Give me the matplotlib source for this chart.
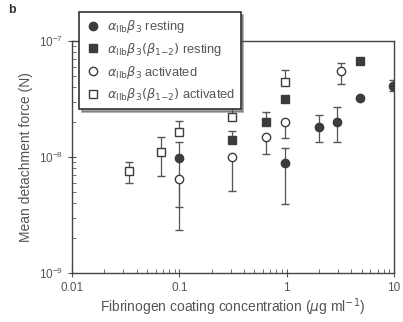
import matplotlib
matplotlib.use("Agg")
import matplotlib.pyplot as plt
import numpy as np
from matplotlib.lines import Line2D
from matplotlib.ticker import FixedLocator, FixedFormatter, LogLocator, NullFormatter

plt.rcParams.update({
    "font.family": ["Liberation Sans", "DejaVu Sans"],
    "font.size": 8,
    "mathtext.fontset": "dejavusans",
})

# --- data ---
# alpha_IIb beta_3 resting (filled circles)
rest_x = np.array([0.1, 0.97, 2.0, 2.95, 4.85, 9.7])
rest_y = np.array([9.8e-9, 8.9e-9, 1.83e-8, 2.0e-8, 3.2e-8, 4.1e-8])
rest_lo = np.array([3.7e-9, 3.9e-9, 1.34e-8, 1.34e-8, 3.2e-8, 3.7e-8])
rest_hi = np.array([1.34e-8, 1.2e-8, 2.29e-8, 2.68e-8, 3.2e-8, 4.6e-8])

# alpha_IIb beta_3 (beta_1-2) resting (filled squares)
chim_rest_x = np.array([0.31, 0.64, 0.97, 4.85])
chim_rest_y = np.array([1.39e-8, 2.0e-8, 3.15e-8, 6.7e-8])
chim_rest_lo = np.array([1.39e-8, 2.0e-8, 3.15e-8, 6.7e-8])
chim_rest_hi = np.array([1.66e-8, 2.43e-8, 3.15e-8, 6.7e-8])

# alpha_IIb beta_3 activated (open circles)
act_x = np.array([0.1, 0.31, 0.64, 0.97, 3.2])
act_y = np.array([6.4e-9, 1.0e-8, 1.5e-8, 2.0e-8, 5.5e-8])
act_lo = np.array([2.35e-9, 5.1e-9, 1.07e-8, 1.45e-8, 4.25e-8])
act_hi = np.array([6.4e-9, 1.0e-8, 1.5e-8, 2.0e-8, 6.45e-8])

# alpha_IIb beta_3 (beta_1-2) activated (open squares)
chim_act_x = np.array([0.034, 0.067, 0.1, 0.31, 0.97])
chim_act_y = np.array([7.6e-9, 1.1e-8, 1.65e-8, 2.2e-8, 4.4e-8])
chim_act_lo = np.array([6.0e-9, 6.8e-9, 1.65e-8, 2.2e-8, 4.4e-8])
chim_act_hi = np.array([9.1e-9, 1.5e-8, 2.03e-8, 2.79e-8, 5.6e-8])

labels = [r"$\alpha_{\mathrm{IIb}}\beta_3$ resting",
          r"$\alpha_{\mathrm{IIb}}\beta_3(\beta_{1\mathrm{-}2})$ resting",
          r"$\alpha_{\mathrm{IIb}}\beta_3$ activated",
          r"$\alpha_{\mathrm{IIb}}\beta_3(\beta_{1\mathrm{-}2})$ activated"]

xticks = [0.01, 0.1, 1, 10]
xticklabels = ["0.01", "0.1", "1", "10"]

dark = "#3c3c3c"
line = "#555555"

fig = plt.figure(figsize=(4.03, 3.22), dpi=100)
ax = fig.add_axes([0.179, 0.152, 0.799, 0.721])

series = [
    (rest_x, rest_y, rest_lo, rest_hi, "o", dark),
    (chim_rest_x, chim_rest_y, chim_rest_lo, chim_rest_hi, "s", dark),
    (act_x, act_y, act_lo, act_hi, "o", "white"),
    (chim_act_x, chim_act_y, chim_act_lo, chim_act_hi, "s", "white"),
]
handles = []
for (x, y, lo, hi, m, fc), lab in zip(series, labels):
    ax.errorbar(x, y, yerr=[y - lo, hi - y], fmt=m, ms=6, mfc=fc, mec=dark,
                mew=1.0, ecolor=line, elinewidth=0.9, capsize=3, capthick=0.9,
                zorder=3)
    handles.append(Line2D([], [], ls="none", marker=m, ms=6, mfc=fc, mec=dark,
                          mew=1.0, label=lab))

ax.set_xscale("log")
ax.set_yscale("log")
ax.set_xlim(0.01, 10)
ax.set_ylim(1e-9, 1e-7)

ax.xaxis.set_major_locator(FixedLocator(xticks))
ax.xaxis.set_major_formatter(FixedFormatter(xticklabels))
ax.xaxis.set_minor_locator(LogLocator(base=10, subs=np.arange(2, 10)))
ax.xaxis.set_minor_formatter(NullFormatter())
ax.yaxis.set_minor_locator(LogLocator(base=10, subs=np.arange(2, 10)))
ax.yaxis.set_minor_formatter(NullFormatter())

ax.tick_params(which="major", direction="inout", length=6, width=0.8, colors=line,
               labelcolor="#555555", labelsize=8.5)
ax.tick_params(which="minor", direction="in", length=3, width=0.6, colors=line)
for s in ax.spines.values():
    s.set_color("#444444")
    s.set_linewidth(1.0)

ax.set_xlabel(r"Fibrinogen coating concentration ($\mu$g ml$^{-1}$)",
              fontsize=10, color="#555555", labelpad=2)
ax.set_ylabel("Mean detachment force (N)", fontsize=10, color="#555555")

leg = ax.legend(handles=handles, loc="upper left", bbox_to_anchor=(0.196, 0.962),
                bbox_transform=fig.transFigure, fontsize=9.3, fancybox=False,
                shadow=True, edgecolor="#333333", framealpha=1,
                handletextpad=0.5, borderpad=0.45, labelspacing=0.45,
                handlelength=1.2, borderaxespad=0)
leg.get_frame().set_linewidth(1.2)
for t in leg.get_texts():
    t.set_color("#555555")

fig.text(0.02, 0.96, "b", fontsize=9, fontweight="bold", color="#333333")

fig.savefig("out.png", dpi=100)
